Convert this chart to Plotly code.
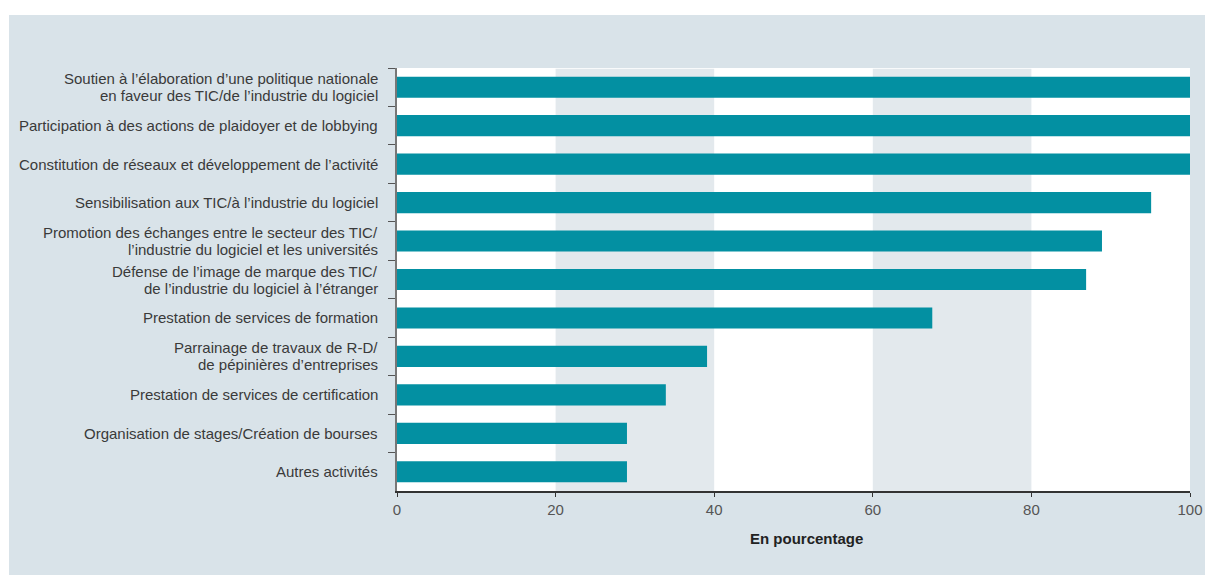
import plotly.graph_objects as go

# Activities offered by ICT / software industry associations (share, %)
categories = [
    "Soutien à l’élaboration d’une politique nationale<br>en faveur des TIC/de l’industrie du logiciel",
    "Participation à des actions de plaidoyer et de lobbying",
    "Constitution de réseaux et développement de l’activité",
    "Sensibilisation aux TIC/à l’industrie du logiciel",
    "Promotion des échanges entre le secteur des TIC/<br>l’industrie du logiciel et les universités",
    "Défense de l’image de marque des TIC/<br>de l’industrie du logiciel à l’étranger",
    "Prestation de services de formation",
    "Parrainage de travaux de R-D/<br>de pépinières d’entreprises",
    "Prestation de services de certification",
    "Organisation de stages/Création de bourses",
    "Autres activités",
]
values = [100, 100, 100, 95.1, 88.9, 86.9, 67.5, 39.1, 33.9, 29.0, 29.0]
x_ticks = [0, 20, 40, 60, 80, 100]
shaded_bands = [(20, 40), (60, 80)]

panel_color = "#d9e3e9"
band_color = "#e3e9ed"
bar_color = "#0390a2"
label_color = "#3a3a3a"

W, H = 1205, 575
L, R, T, B = 397, 15, 68, 84
pw, ph = W - L - R, H - T - B
LINE_H = 17  # spacing between lines of a wrapped category label

fig = go.Figure(
    go.Bar(
        x=values,
        y=categories,
        orientation="h",
        marker=dict(color=bar_color, line=dict(width=0)),
        width=0.55,
        hoverinfo="x",
    )
)

shapes = []
# white strips above and left of the panel
shapes.append(dict(type="rect", xref="paper", yref="paper",
                   x0=(0 - L) / pw - 0.05, x1=(W - L) / pw + 0.05,
                   y0=(H - B - 15) / ph, y1=(H - B) / ph + 0.2,
                   fillcolor="white", line=dict(width=0), layer="above"))
shapes.append(dict(type="rect", xref="paper", yref="paper",
                   x0=(0 - L) / pw - 0.05, x1=(9 - L) / pw,
                   y0=-B / ph - 0.1, y1=(H - B) / ph + 0.2,
                   fillcolor="white", line=dict(width=0), layer="above"))
for a, b in shaded_bands:
    shapes.append(dict(type="rect", xref="x", yref="paper",
                       x0=a, x1=b, y0=0, y1=0.998,
                       fillcolor=band_color, line=dict(width=0), layer="below"))

# category labels, one annotation per line so the line spacing stays tight
annotations = []
for cat in categories:
    lines = cat.split("<br>")
    n = len(lines)
    for i, line in enumerate(lines):
        annotations.append(dict(
            text=line, xref="paper", yref="y", x=(380 - L) / pw, y=cat,
            xanchor="right", yanchor="middle", showarrow=False,
            yshift=((n - 1) / 2 - i) * LINE_H,
            font=dict(size=15, color=label_color),
        ))
annotations.append(dict(
    text="<b>En pourcentage</b>", xref="paper", yref="paper",
    x=(806 - L) / pw, y=(H - B - 538) / ph,
    xanchor="center", yanchor="middle", showarrow=False,
    font=dict(size=15, color="#222222"),
))

fig.update_layout(
    width=W,
    height=H,
    margin=dict(l=L, r=R, t=T, b=B, pad=0, autoexpand=False),
    paper_bgcolor=panel_color,
    plot_bgcolor="white",
    showlegend=False,
    bargap=0.45,
    shapes=shapes,
    annotations=annotations,
    font=dict(family="Liberation Sans, Arial, sans-serif", size=15, color=label_color),
    xaxis=dict(
        range=[0, 100],
        tickvals=x_ticks,
        ticktext=[str(v) for v in x_ticks],
        showgrid=False,
        zeroline=False,
        showline=True,
        linecolor="#333333",
        linewidth=1.5,
        ticks="outside",
        ticklen=4,
        tickcolor="#333333",
        tickfont=dict(size=15, color="#555555"),
        automargin=False,
        fixedrange=True,
    ),
    yaxis=dict(
        categoryorder="array",
        categoryarray=categories,
        autorange="reversed",
        showgrid=False,
        zeroline=False,
        showline=True,
        linecolor="#777777",
        linewidth=2,
        ticks="outside",
        tickson="boundaries",
        ticklen=7,
        tickcolor="#555555",
        showticklabels=False,
        automargin=False,
        fixedrange=True,
    ),
)

fig.write_html("out.html")
